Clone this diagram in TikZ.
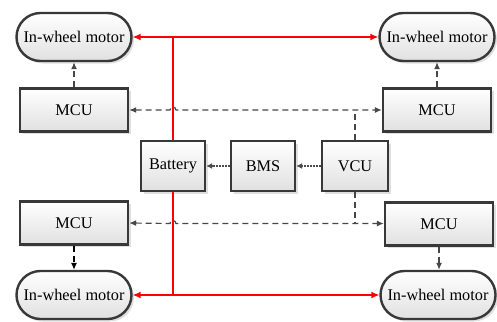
\documentclass[tikz,border=0pt]{standalone}
\usepackage{fontspec}
\setmainfont{Liberation Serif}
\usetikzlibrary{shapes.misc,shadows,arrows.meta}
\definecolor{pwr}{RGB}{255,0,0}
\begin{document}
\begin{tikzpicture}[x=1pt,y=-1pt,
  blk/.style={draw=black!78, line width=2.4pt, top color=white, bottom color=black!12,
    drop shadow={opacity=0.25, shadow xshift=2.5pt, shadow yshift=-2.5pt},
    font=\fontsize{16.3}{18}\selectfont, inner sep=0pt},
  motor/.style={blk, rounded rectangle, minimum width=115pt, minimum height=48pt},
  mcu/.style={blk, rectangle, minimum width=108pt, minimum height=43pt},
  small/.style={blk, rectangle, minimum width=64pt, minimum height=50pt},
  redbase/.style={draw=pwr, line width=1.2pt},
  redln/.style={redbase, {Latex[length=8pt,width=7pt]}-{Latex[length=8pt,width=7pt]}},
  dashln/.style={black!72, line width=1.2pt, dash pattern=on 6pt off 4pt},
  dotln/.style={black!70, line width=1.1pt, dash pattern=on 1.5pt off 1.5pt, -{Latex[length=6pt,width=6pt]}},
  tip/.style={-{Latex[length=7pt,width=6pt]}},
  tips/.style={{Latex[length=7pt,width=6pt]}-{Latex[length=7pt,width=6pt]}}
]
\useasboundingbox (0,0) rectangle (497,321);
% motors
\node[motor] (tlm) at (74,37) {In-wheel motor};
\node[motor] (trm) at (437,37) {In-wheel motor};
\node[motor] (blm) at (74,295) {In-wheel motor};
\node[motor] (brm) at (438,295) {In-wheel motor};
% MCUs
\node[mcu] (tlc) at (74,110) {MCU};
\node[mcu] (trc) at (437,110) {MCU};
\node[mcu] (blc) at (74,223) {MCU};
\node[mcu] (brc) at (439,224) {MCU};
% centre
\node[small] (bat) at (173,166) {Battery};
\node[small] (bms) at (263,166) {BMS};
\node[small, minimum width=66pt] (vcu) at (355,166) {VCU};
% red power lines
\coordinate (jt) at (173,37);
\coordinate (jb) at (173,295);
\draw[redln] (tlm.east) -- (trm.west);
\draw[redln] (blm.east) -- (brm.west);
\draw[redbase] (bat.north) -- (jt);
\draw[redbase] (bat.south) -- (jb);
% dashed control lines
\draw[dashln, tips] (tlc.east) -- (170,110) arc (180:360:3) -- (trc.west);
\draw[dashln, tips] (blc.east) -- (170,223.5) arc (180:360:3) -- (brc.west |- 0,223.5);
\draw[dashln] (vcu.north) -- (vcu.north |- tlc.east);
\draw[dashln] (vcu.south) -- (vcu.south |- 0,223.5);
\draw[dashln, tip] (tlc.north) -- (tlm.south);
\draw[dashln, tip] (trc.north) -- (trm.south -| trc.north);
\draw[dashln, tip, black] (blc.south) -- (blm.north);
\draw[dashln, tip] (brc.south) -- (brm.north -| brc.south);
% dotted
\draw[dotln] (vcu.west) -- (bms.east);
\draw[dotln] (bms.west) -- (bat.east);
\end{tikzpicture}
\end{document}
